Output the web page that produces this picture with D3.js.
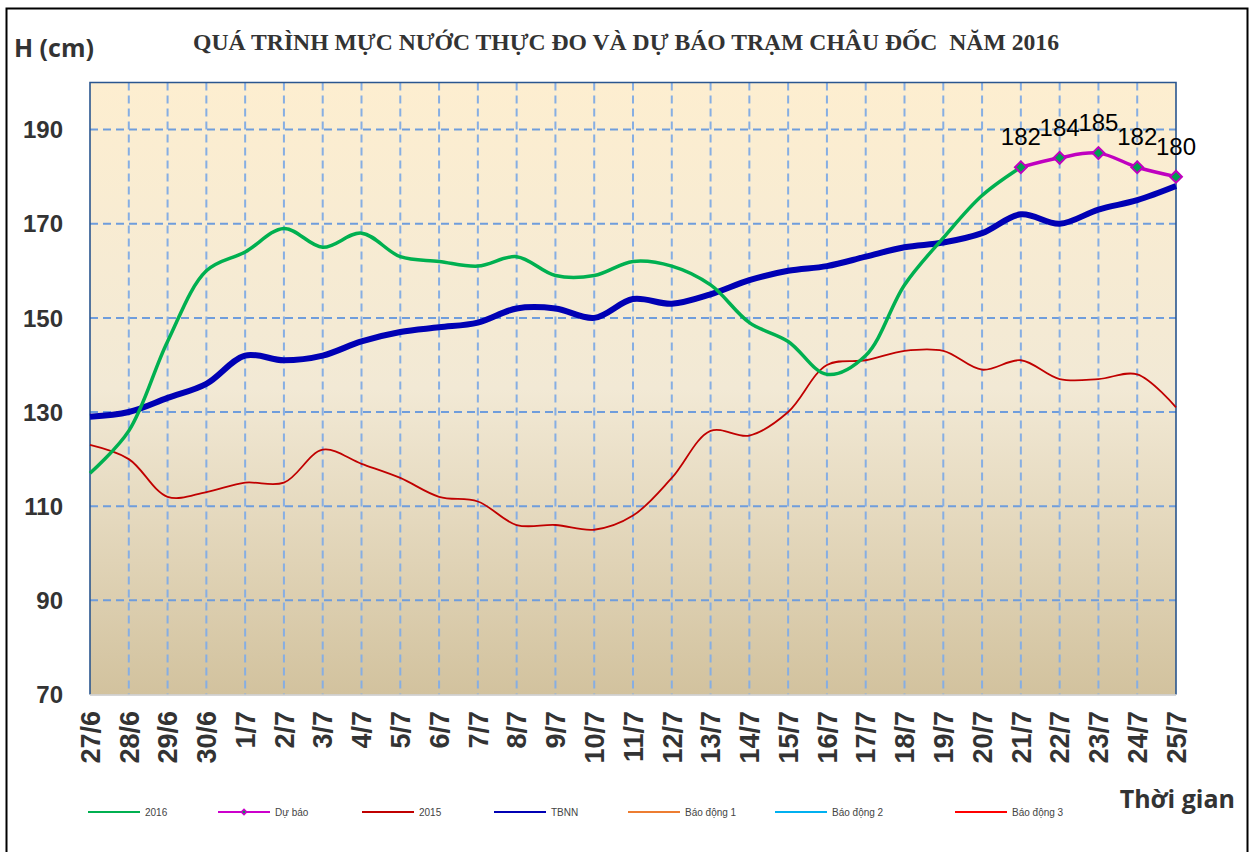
<!DOCTYPE html>
<html>
<head>
<meta charset="utf-8">
<script src="https://cdn.jsdelivr.net/npm/d3@7"></script>
<style>
  body { margin: 0; background: #fff; }
  svg { display: block; }
  text { white-space: pre; }
</style>
</head>
<body>
<svg id="chart" width="1257" height="852"></svg>
<script>
// ngày quan trắc
var dates = ["27/6","28/6","29/6","30/6","1/7","2/7","3/7","4/7","5/7","6/7","7/7","8/7","9/7",
  "10/7","11/7","12/7","13/7","14/7","15/7","16/7","17/7","18/7","19/7","20/7","21/7","22/7",
  "23/7","24/7","25/7"];
var yTicks = [70, 90, 110, 130, 150, 170, 190];

// mực nước (cm)
var h2016 = [117,126,145,160,164,169,165,168,163,162,161,163,159,159,162,161,157,149,145,138,
  142,157,167,176,182,null,null,null,null];
var duBao = [null,null,null,null,null,null,null,null,null,null,null,null,null,null,null,null,
  null,null,null,null,null,null,null,null,182,184,185,182,180];
var h2015 = [123,120,112,113,115,115,122,119,116,112,111,106,106,105,108,116,126,125,130,140,
  141,143,143,139,141,137,137,138,131];
var tbnn = [129,130,133,136,142,141,142,145,147,148,149,152,152,150,154,153,155,158,160,161,
  163,165,166,168,172,170,173,175,178];

var legendItems = [
  {name: "2016", color: "#00b050"},
  {name: "Dự báo", color: "#cc00cc", marker: true},
  {name: "2015", color: "#c00000"},
  {name: "TBNN", color: "#0000b4"},
  {name: "Báo động 1", color: "#ed7d31"},
  {name: "Báo động 2", color: "#00b0f0"},
  {name: "Báo động 3", color: "#ff0000"}
];

var svg = d3.select("#chart");
var pLeft = 90, pRight = 1176, pTop = 82.5, pBottom = 694.5;

var x = d3.scalePoint().domain(d3.range(dates.length)).range([pLeft, pRight]);
var y = d3.scaleLinear().domain([70, 200]).range([pBottom, pTop]);

// khung ngoài
svg.append("rect")
  .attr("x", 6.5).attr("y", 8.5).attr("width", 1241).attr("height", 860)
  .attr("fill", "none").attr("stroke", "#000").attr("stroke-width", 2);

var defs = svg.append("defs");
var grad = defs.append("linearGradient").attr("id", "bg")
  .attr("x1", 0).attr("y1", 0).attr("x2", 0).attr("y2", 1);
grad.append("stop").attr("offset", "0%").attr("stop-color", "#fdeed0");
grad.append("stop").attr("offset", "50%").attr("stop-color", "#f2e9d5");
grad.append("stop").attr("offset", "100%").attr("stop-color", "#d2c29e");

svg.append("rect")
  .attr("x", pLeft).attr("y", pTop).attr("width", pRight - pLeft).attr("height", pBottom - pTop)
  .attr("fill", "url(#bg)");

// lưới
svg.append("g").selectAll("line")
  .data(yTicks.filter(function(d){ return d > 70; }))
  .join("line")
  .attr("x1", pLeft).attr("x2", pRight)
  .attr("y1", function(d){ return y(d); }).attr("y2", function(d){ return y(d); })
  .attr("stroke", "#6f9ddc").attr("stroke-width", 2).attr("stroke-dasharray", "8,5");

svg.append("g").selectAll("line")
  .data(d3.range(1, dates.length - 1))
  .join("line")
  .attr("x1", function(d){ return x(d); }).attr("x2", function(d){ return x(d); })
  .attr("y1", pTop).attr("y2", pBottom)
  .attr("stroke", "#86aee3").attr("stroke-width", 2).attr("stroke-dasharray", "8,5");

// viền vùng vẽ
svg.append("path")
  .attr("d", "M" + pLeft + "," + pBottom + "V" + pTop + "H" + pRight + "V" + pBottom)
  .attr("fill", "none").attr("stroke", "#2a568f").attr("stroke-width", 1.6);
svg.append("line")
  .attr("x1", pLeft).attr("x2", pRight).attr("y1", pBottom + 0.5).attr("y2", pBottom + 0.5)
  .attr("stroke", "#c8c8c8").attr("stroke-width", 1.5);

function lineFor(arr) {
  return d3.line()
    .defined(function(d){ return d != null; })
    .x(function(d, i){ return x(i); })
    .y(function(d){ return y(d); })
    .curve(d3.curveCatmullRom.alpha(0.5))(arr);
}

svg.append("path").attr("d", lineFor(h2015))
  .attr("fill", "none").attr("stroke", "#c00000").attr("stroke-width", 1.8);
svg.append("path").attr("d", lineFor(tbnn))
  .attr("fill", "none").attr("stroke", "#0000b4").attr("stroke-width", 6);
svg.append("path").attr("d", lineFor(h2016))
  .attr("fill", "none").attr("stroke", "#00b050").attr("stroke-width", 3.5);
svg.append("path").attr("d", lineFor(duBao))
  .attr("fill", "none").attr("stroke", "#c000c0").attr("stroke-width", 3.5);

var fc = duBao.map(function(d, i){ return {v: d, i: i}; }).filter(function(d){ return d.v != null; });
var diamond = d3.symbol(d3.symbolSquare, 70);
svg.append("g").selectAll("path")
  .data(fc).join("path")
  .attr("d", diamond)
  .attr("transform", function(d){ return "translate(" + x(d.i) + "," + y(d.v) + ") rotate(45)"; })
  .attr("fill", "#00a050").attr("stroke", "#c000c0").attr("stroke-width", 2);

svg.append("g").selectAll("text")
  .data(fc).join("text")
  .attr("x", function(d){ return x(d.i); })
  .attr("y", function(d){ return y(d.v) - 22; })
  .attr("text-anchor", "middle")
  .attr("font-family", "Liberation Sans, Arial, sans-serif")
  .attr("font-size", 24)
  .attr("fill", "#000")
  .text(function(d){ return d.v; });

// trục
svg.append("g").selectAll("text")
  .data(yTicks).join("text")
  .attr("x", 63).attr("y", function(d){ return y(d); })
  .attr("dy", "0.36em")
  .attr("text-anchor", "end")
  .attr("font-family", "Liberation Sans, Arial, sans-serif")
  .attr("font-weight", "bold").attr("font-size", 24).attr("fill", "#333")
  .text(function(d){ return d; });

svg.append("g").selectAll("text")
  .data(dates).join("text")
  .attr("transform", function(d, i){ return "translate(" + x(i) + ",711) rotate(-90)"; })
  .attr("dy", "0.36em")
  .attr("text-anchor", "end")
  .attr("font-family", "Liberation Sans, Arial, sans-serif")
  .attr("font-weight", "bold").attr("font-size", 27).attr("fill", "#333")
  .text(function(d){ return d; });

// tiêu đề
svg.append("text")
  .attr("x", 193).attr("y", 50)
  .attr("textLength", 866).attr("lengthAdjust", "spacingAndGlyphs")
  .attr("font-family", "Liberation Serif, Times New Roman, serif")
  .attr("font-weight", "bold").attr("font-size", 24).attr("fill", "#333")
  .text("QUÁ TRÌNH MỰC NƯỚC THỰC ĐO VÀ DỰ BÁO TRẠM CHÂU ĐỐC  NĂM 2016");

svg.append("text")
  .attr("x", 14).attr("y", 57)
  .attr("font-family", "Open Sans, sans-serif")
  .attr("font-weight", "bold").attr("font-size", 25).attr("fill", "#333")
  .text("H (cm)");

svg.append("text")
  .attr("x", 1235).attr("y", 808)
  .attr("text-anchor", "end")
  .attr("font-family", "Open Sans, sans-serif")
  .attr("font-weight", "bold").attr("font-size", 25).attr("fill", "#333")
  .text("Thời gian");

// chú giải
var legendX = [88, 218, 362, 494, 628, 775, 955];
var lg = svg.append("g").selectAll("g")
  .data(legendItems).join("g")
  .attr("transform", function(d, i){ return "translate(" + legendX[i] + ",812)"; });
lg.append("line")
  .attr("x1", 0).attr("x2", 52).attr("y1", 0).attr("y2", 0)
  .attr("stroke", function(d){ return d.color; }).attr("stroke-width", 2);
lg.filter(function(d){ return d.marker; }).append("path")
  .attr("d", d3.symbol(d3.symbolSquare, 14))
  .attr("transform", "translate(26,0) rotate(45)")
  .attr("fill", "#00a050").attr("stroke", "#cc00cc").attr("stroke-width", 1.5);
lg.append("text")
  .attr("x", 57).attr("y", 4)
  .attr("font-family", "Liberation Sans, Arial, sans-serif")
  .attr("font-size", 10).attr("fill", "#444")
  .text(function(d){ return d.name; });
</script>
</body>
</html>
